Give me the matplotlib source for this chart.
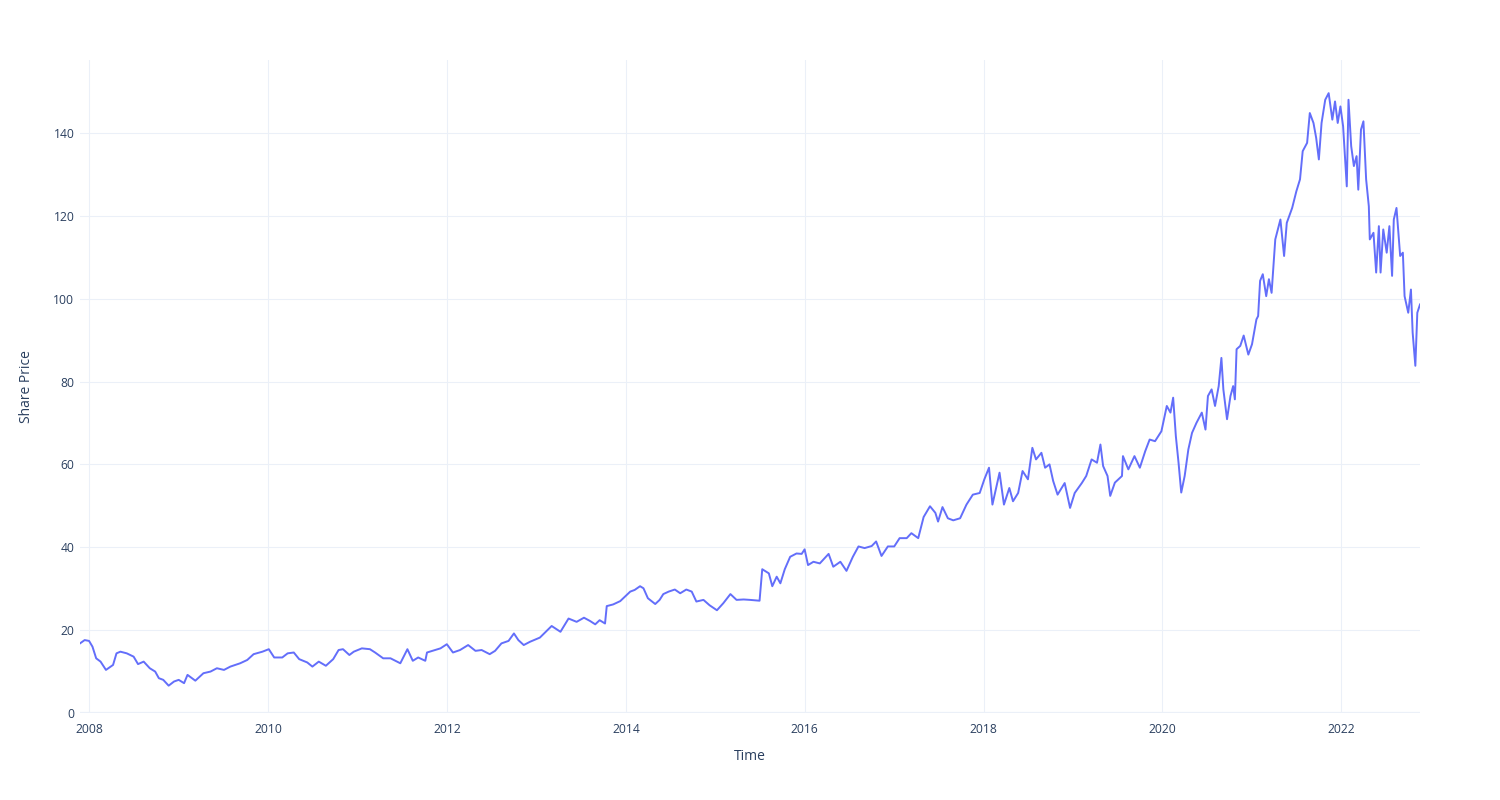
import matplotlib
matplotlib.use("Agg")
import matplotlib.pyplot as plt
import matplotlib.dates as mdates
import pandas as pd

# ---- data ----
dates = [
    "2007-11-25", "2007-12-14", "2008-01-01", "2008-01-15", "2008-01-30", "2008-02-17",
    "2008-03-10", "2008-04-08", "2008-04-22", "2008-05-08", "2008-06-03", "2008-07-01",
    "2008-07-19", "2008-08-11", "2008-09-05", "2008-09-27", "2008-10-12", "2008-10-30",
    "2008-11-21", "2008-12-13", "2009-01-01", "2009-01-23", "2009-02-06", "2009-03-10",
    "2009-04-12", "2009-05-11", "2009-06-06", "2009-07-05", "2009-07-31", "2009-09-09",
    "2009-10-08", "2009-11-03", "2009-12-09", "2010-01-04", "2010-01-26", "2010-02-28",
    "2010-03-22", "2010-04-16", "2010-05-08", "2010-06-10", "2010-07-01", "2010-07-27",
    "2010-08-25", "2010-09-24", "2010-10-16", "2010-11-03", "2010-11-29", "2010-12-17",
    "2011-01-19", "2011-02-21", "2011-03-14", "2011-04-16", "2011-05-16", "2011-06-25",
    "2011-07-24", "2011-08-15", "2011-09-06", "2011-10-05", "2011-10-12", "2011-11-14",
    "2011-12-06", "2012-01-01", "2012-01-26", "2012-02-24", "2012-03-28", "2012-04-27",
    "2012-05-22", "2012-06-24", "2012-07-16", "2012-08-11", "2012-09-09", "2012-10-01",
    "2012-10-19", "2012-11-10", "2012-12-06", "2013-01-15", "2013-03-04", "2013-04-09",
    "2013-05-12", "2013-06-14", "2013-07-14", "2013-08-08", "2013-08-29", "2013-09-16",
    "2013-10-08", "2013-10-15", "2013-11-10", "2013-12-09", "2014-01-19", "2014-02-06",
    "2014-02-28", "2014-03-14", "2014-04-01", "2014-05-01", "2014-05-19", "2014-06-03",
    "2014-06-25", "2014-07-20", "2014-08-11", "2014-09-05", "2014-09-27", "2014-10-16",
    "2014-11-14", "2014-12-09", "2015-01-08", "2015-02-03", "2015-03-04", "2015-03-29",
    "2015-04-27", "2015-05-23", "2015-07-01", "2015-07-12", "2015-08-08", "2015-08-22",
    "2015-09-09", "2015-09-24", "2015-10-12", "2015-11-03", "2015-11-29", "2015-12-20",
    "2016-01-01", "2016-01-15", "2016-02-06", "2016-03-03", "2016-04-08", "2016-04-27",
    "2016-05-26", "2016-06-20", "2016-07-16", "2016-08-08", "2016-09-02", "2016-10-01",
    "2016-10-19", "2016-11-10", "2016-12-06", "2017-01-01", "2017-01-23", "2017-02-21",
    "2017-03-12", "2017-04-09", "2017-05-01", "2017-05-27", "2017-06-18", "2017-06-29",
    "2017-07-17", "2017-08-08", "2017-08-30", "2017-09-27", "2017-10-23", "2017-11-18",
    "2017-12-16", "2018-01-04", "2018-01-23", "2018-02-06", "2018-02-24", "2018-03-07",
    "2018-03-25", "2018-04-16", "2018-05-01", "2018-05-22", "2018-06-09", "2018-07-01",
    "2018-07-19", "2018-08-03", "2018-08-25", "2018-09-09", "2018-09-27", "2018-10-12",
    "2018-10-30", "2018-11-28", "2018-12-20", "2019-01-08", "2019-02-06", "2019-02-24",
    "2019-03-18", "2019-04-09", "2019-04-23", "2019-05-04", "2019-05-22", "2019-06-02",
    "2019-06-21", "2019-07-20", "2019-07-24", "2019-08-15", "2019-09-09", "2019-10-01",
    "2019-10-23", "2019-11-10", "2019-12-02", "2019-12-28", "2020-01-19", "2020-02-03",
    "2020-02-14", "2020-02-25", "2020-03-07", "2020-03-18", "2020-04-01", "2020-04-16",
    "2020-05-01", "2020-05-19", "2020-06-10", "2020-06-25", "2020-07-05", "2020-07-20",
    "2020-08-03", "2020-08-18", "2020-08-29", "2020-09-06", "2020-09-21", "2020-10-05",
    "2020-10-16", "2020-10-23", "2020-10-30", "2020-11-14", "2020-11-28", "2020-12-17",
    "2021-01-01", "2021-01-19", "2021-01-26", "2021-02-03", "2021-02-14", "2021-02-28",
    "2021-03-11", "2021-03-22", "2021-04-06", "2021-04-27", "2021-05-12", "2021-05-23",
    "2021-06-14", "2021-07-01", "2021-07-16", "2021-07-27", "2021-08-14", "2021-08-25",
    "2021-09-09", "2021-09-20", "2021-10-01", "2021-10-12", "2021-10-27", "2021-11-10",
    "2021-11-25", "2021-12-06", "2021-12-17", "2021-12-28", "2022-01-08", "2022-01-23",
    "2022-01-30", "2022-02-10", "2022-02-21", "2022-03-04", "2022-03-11", "2022-03-22",
    "2022-04-01", "2022-04-12", "2022-04-23", "2022-04-27", "2022-05-12", "2022-05-23",
    "2022-06-03", "2022-06-10", "2022-06-21", "2022-07-05", "2022-07-16", "2022-07-27",
    "2022-08-03", "2022-08-14", "2022-08-29", "2022-09-09", "2022-09-16", "2022-10-01",
    "2022-10-12", "2022-10-19", "2022-10-30", "2022-11-07", "2022-11-18",
]

share_price = [
    16.8, 17.6, 17.4, 16.0, 13.2, 12.4,
    10.4, 11.6, 14.4, 14.8, 14.4, 13.6,
    11.8, 12.4, 10.8, 10.0, 8.4, 8.0,
    6.6, 7.6, 8.0, 7.2, 9.2, 7.8,
    9.6, 10.0, 10.8, 10.4, 11.2, 12.0,
    12.8, 14.2, 14.8, 15.4, 13.4, 13.4,
    14.4, 14.6, 13.0, 12.2, 11.2, 12.4,
    11.4, 13.0, 15.2, 15.4, 14.0, 14.8,
    15.6, 15.4, 14.6, 13.2, 13.2, 12.0,
    15.4, 12.6, 13.4, 12.6, 14.6, 15.2,
    15.6, 16.6, 14.6, 15.2, 16.4, 15.0,
    15.2, 14.2, 15.0, 16.8, 17.4, 19.2,
    17.6, 16.4, 17.2, 18.2, 21.0, 19.6,
    22.8, 22.0, 23.0, 22.2, 21.4, 22.4,
    21.6, 25.8, 26.2, 27.0, 29.3, 29.7,
    30.6, 30.1, 27.7, 26.3, 27.3, 28.7,
    29.3, 29.8, 28.9, 29.8, 29.3, 26.9,
    27.3, 26.0, 24.8, 26.5, 28.7, 27.3,
    27.4, 27.3, 27.1, 34.7, 33.7, 30.6,
    32.9, 31.3, 34.7, 37.7, 38.5, 38.4,
    39.5, 35.7, 36.5, 36.1, 38.4, 35.3,
    36.5, 34.3, 37.7, 40.2, 39.8, 40.3,
    41.4, 37.9, 40.2, 40.2, 42.2, 42.2,
    43.4, 42.2, 47.3, 49.9, 48.3, 46.2,
    49.7, 47.0, 46.5, 47.0, 50.3, 52.7,
    53.1, 56.4, 59.2, 50.3, 55.1, 58.0,
    50.3, 54.3, 51.1, 53.1, 58.4, 56.4,
    64.0, 61.2, 62.8, 59.2, 60.0, 56.0,
    52.7, 55.5, 49.5, 53.1, 55.5, 57.2,
    61.2, 60.4, 64.8, 59.6, 57.2, 52.4,
    55.6, 57.2, 62.0, 58.8, 62.0, 59.2,
    63.2, 66.0, 65.6, 68.0, 74.1, 72.5,
    76.1, 66.8, 60.4, 53.2, 57.2, 63.6,
    67.6, 70.0, 72.5, 68.4, 76.5, 78.1,
    74.1, 78.9, 85.7, 78.1, 70.9, 76.5,
    78.9, 75.7, 87.8, 88.6, 91.1, 86.5,
    89.0, 95.0, 95.8, 104.3, 105.9, 100.6,
    104.7, 101.4, 114.3, 119.1, 110.3, 118.3,
    121.9, 125.9, 128.8, 135.6, 137.6, 144.8,
    142.4, 138.8, 133.6, 142.4, 148.0, 149.6,
    143.2, 147.6, 142.4, 146.4, 141.6, 127.1,
    148.0, 136.8, 132.0, 134.4, 126.3, 140.8,
    142.8, 128.8, 122.3, 114.3, 115.9, 106.3,
    117.5, 106.3, 116.7, 111.1, 117.5, 105.5,
    119.1, 121.9, 110.3, 111.1, 100.6, 96.6,
    102.2, 91.8, 83.8, 96.6, 98.6,
]

y_ticks = [0, 20, 40, 60, 80, 100, 120, 140]
x_tick_years = ["2008", "2010", "2012", "2014", "2016", "2018", "2020", "2022"]
x_title = "Time"
y_title = "Share Price"

# ---- style ----
plt.rcParams["font.family"] = ["Open Sans", "DejaVu Sans"]
TEXT = "#2a3f5f"
GRID = "#EBF0F8"
LINE = "#636EFA"

W, H = 1500, 800
fig = plt.figure(figsize=(W / 100, H / 100), dpi=100)
fig.patch.set_facecolor("white")
ax = fig.add_axes([80 / W, 1 - 713 / H, 1340 / W, 653 / H])
ax.set_facecolor("white")

x = pd.to_datetime(dates)
ax.plot(x, share_price, color=LINE, linewidth=1.4, solid_joinstyle="round", zorder=3)

ax.set_xlim(x[0], x[-1])
ax.set_ylim(0, 157.6)

ax.set_yticks(y_ticks)
ax.set_yticklabels([str(v) for v in y_ticks])
ax.set_xticks(pd.to_datetime([y + "-01-01" for y in x_tick_years]))
ax.set_xticklabels(x_tick_years)

ax.grid(True, color=GRID, linewidth=0.75, zorder=0)
ax.axhline(0, color=GRID, linewidth=1.6, zorder=1)
for s in ax.spines.values():
    s.set_visible(False)
ax.tick_params(axis="both", length=0, labelsize=8.7, colors=TEXT)
ax.tick_params(axis="x", pad=7)
ax.tick_params(axis="y", pad=4)
ax.set_axisbelow(True)

ax.set_xlabel(x_title, fontsize=10, color=TEXT)
ax.xaxis.set_label_coords(0.5, (713 - 756) / 653)
ax.xaxis.label.set_va("center")
ax.set_ylabel(y_title, fontsize=10, color=TEXT)
ax.yaxis.set_label_coords((27 - 80) / 1340, 0.5)
ax.yaxis.label.set_va("center")

fig.savefig("out.png", dpi=100, facecolor="white")
